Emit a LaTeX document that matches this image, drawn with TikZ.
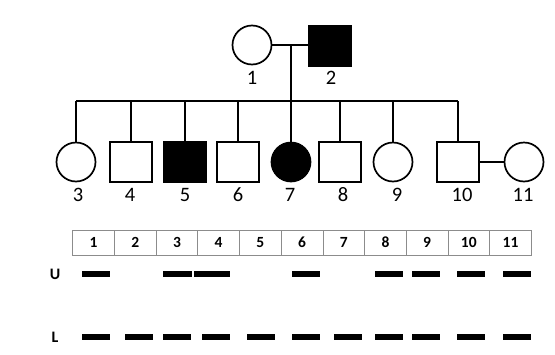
\documentclass[tikz,border=0pt]{standalone}
\usepackage{fontspec}
\setmainfont{Carlito}
\usetikzlibrary{positioning}
\newcommand\tagfont{\fontsize{20.5pt}{24pt}\selectfont}
\newcommand\cellfont{\bfseries\fontsize{15.5pt}{18pt}\selectfont}
\newcommand\rowfont{\bfseries\fontsize{16pt}{19pt}\selectfont}

\begin{document}
\begin{tikzpicture}[x=1pt,y=-1pt,
  male/.style={draw,line width=1.7pt,minimum width=42pt,minimum height=40pt,inner sep=0pt},
  female/.style={draw,circle,line width=1.7pt,minimum size=39pt,inner sep=0pt},
  affected/.style={fill=black},
  tag/.style={font=\tagfont,inner sep=0pt},
  link/.style={line width=1.7pt},
  cell/.style={draw=black!45,line width=0.8pt,minimum width=41.7pt,minimum height=25pt,
    inner sep=0pt,font=\cellfont},
  band/.style={fill=black,inner sep=0pt,minimum height=6.5pt},
  rowname/.style={font=\rowfont,inner sep=0pt}]
  \useasboundingbox (0,0) rectangle (555,354);
  % parents
  \node[female] (p1) at (252,45) {};
  \node[male,affected] (p2) at (330,46) {};
  \node[tag] at (252,78) {1};
  \node[tag] at (331,78) {2};
  \coordinate (mate) at (291,45);
  \coordinate (sib) at (0,101);
  \draw[link] (p1.east) -- (p1.east -| p2.west);
  \draw[link] (mate) -- (mate |- sib);
  % children
  \node[female] (c3) at (76,162) {};
  \node[male] (c4) at (131,162) {};
  \node[male,affected] (c5) at (185,162) {};
  \node[male] (c6) at (238,162) {};
  \node[female,affected] (c7) at (291,162) {};
  \node[male] (c8) at (340,162) {};
  \node[female] (c9) at (393,162) {};
  \node[male] (c10) at (458,162) {};
  \node[female] (c11) at (524,162) {};
  \draw[link] (c3.north |- sib) -- (c10.north |- sib);
  \foreach \k in {3,...,10}
    \draw[link] (c\k.north) -- (c\k.north |- sib);
  \draw[link] (c10.east) -- (c11.west);
  \foreach \k/\x in {3/78,4/130,5/185,6/238,7/290,8/343,9/397,10/462,11/523}
    \node[tag] at (\x,195) {\k};
  % marker table
  \foreach \k in {1,...,11}
    \node[cell] (t\k) at ({72.7+41.7*(\k-0.5)},242.5) {\k};
  \node[rowname] (rowU) at (55,274) {U};
  \node[rowname] (rowL) at (55,337) {L};
  \foreach \x/\w [count=\i] in {96/28,177/29,212/36,306/28,389/28,425.5/28,471/28,516.7/28}
    \node[band,minimum width=\w pt] (u\i) at (\x,274) {};
  \foreach \x [count=\i] in {96,139,177,216,261,306,347.5,389,425.5,471,516.7}
    \node[band,minimum width=28pt] (l\i) at (\x,337) {};
\end{tikzpicture}
\end{document}
